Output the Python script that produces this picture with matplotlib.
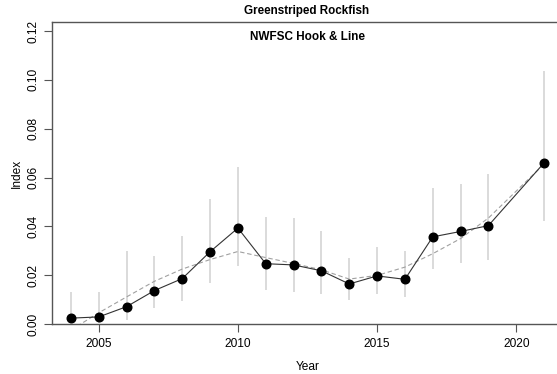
import matplotlib
matplotlib.use("Agg")
import matplotlib.pyplot as plt

plt.rcParams['font.family'] = ['Liberation Sans', 'DejaVu Sans']

# index estimates
years = [2004, 2005, 2006, 2007, 2008, 2009, 2010, 2011, 2012, 2013,
         2014, 2015, 2016, 2017, 2018, 2019, 2021]
index = [0.0024, 0.0029, 0.0071, 0.0137, 0.0186, 0.0296, 0.0393, 0.0247, 0.0242, 0.0218,
         0.0164, 0.0197, 0.0183, 0.0357, 0.0379, 0.0403, 0.0660]
upper = [0.0131, 0.0131, 0.0301, 0.0280, 0.0361, 0.0512, 0.0644, 0.0439, 0.0435, 0.0382,
         0.0270, 0.0316, 0.0299, 0.0558, 0.0572, 0.0613, 0.1035]
lower = [0.0004, 0.0005, 0.0016, 0.0065, 0.0093, 0.0168, 0.0236, 0.0138, 0.0131, 0.0122,
         0.0097, 0.0122, 0.0109, 0.0225, 0.0250, 0.0264, 0.0420]
# expected (fitted) index, dashed line
expected = [-0.0025, 0.0046, 0.0111, 0.0175, 0.0225, 0.0264, 0.0297, 0.0272, 0.0248, 0.0222,
            0.0184, 0.0199, 0.0233, 0.0288, 0.0350, 0.0434, 0.0655]

yticks = [0.00, 0.02, 0.04, 0.06, 0.08, 0.10, 0.12]
xticks = [2005, 2010, 2015, 2020]

fig = plt.figure(figsize=(5.57, 3.74), dpi=100)
ax = fig.add_axes([52 / 557, 50 / 374, 511 / 557, 302 / 374])

# error bars
ax.vlines(years, lower, upper, color="#dadada", lw=1.4, zorder=1)
# expected line
ax.plot(years, expected, color="#a0a0a0", lw=0.8, ls=(0, (4, 2.5)), zorder=2)
# observed
ax.plot(years, index, color="#333333", lw=0.8, zorder=3)
ax.plot(years, index, "o", color="black", ms=6.2, zorder=4)

ax.set_xlim(2003.32, 2021.68)
ax.set_ylim(0, 0.1237)
ax.set_xticks(xticks)
ax.set_yticks(yticks)
ax.set_yticklabels([f"{v:.2f}" for v in yticks], rotation=90, va="center")

for s in ["left", "bottom", "top"]:
    ax.spines[s].set_color("#555555")
    ax.spines[s].set_linewidth(1.0)
ax.spines["right"].set_visible(False)
ax.tick_params(axis="both", length=6, width=0.8, color="#555555", labelsize=8.6, pad=3)
ax.tick_params(axis="x", pad=4)

ax.set_xlabel("Year", fontsize=8.6, labelpad=8)
ax.set_ylabel("Index", fontsize=8.6, labelpad=3)

fig.text(307 / 557, 1 - 11 / 374, "Greenstriped Rockfish", ha="center", va="center",
         fontsize=8.4, fontweight="bold")
ax.text(0.5, 1 - 15 / 302, "NWFSC Hook & Line", transform=ax.transAxes, ha="center",
        va="center", fontsize=8.5, fontweight="bold")

fig.savefig("out.png", dpi=100)
